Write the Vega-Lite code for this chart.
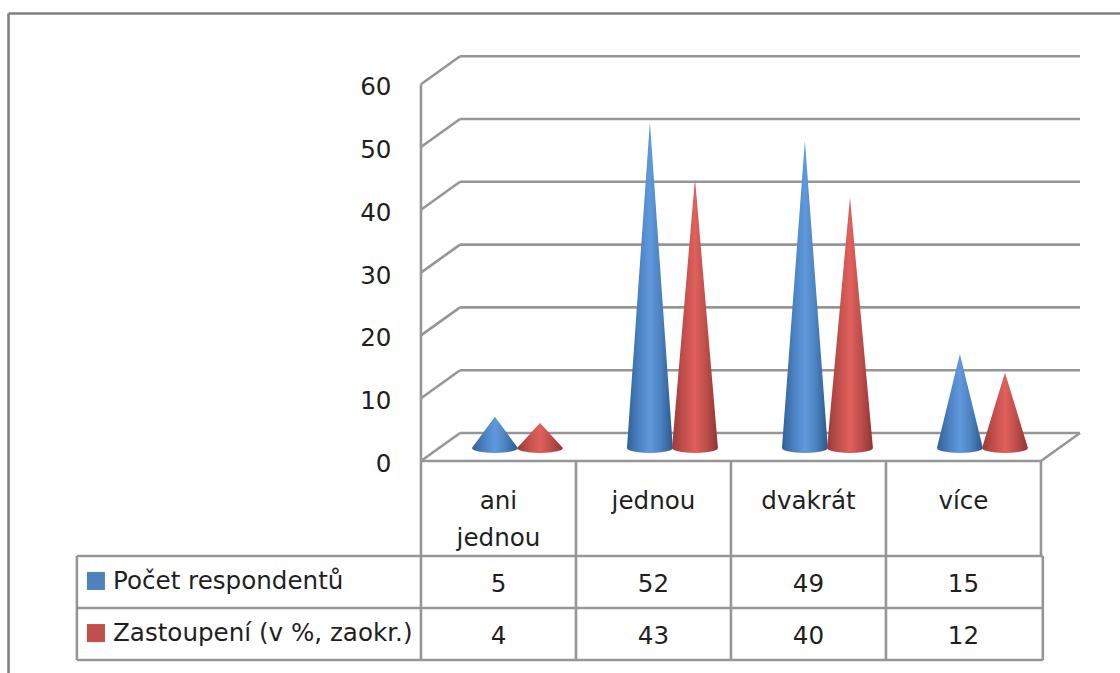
{
"$schema":"https://vega.github.io/schema/vega-lite/v6.json",
"width":1120,"height":673,"padding":0,"autosize":{"type":"none"},"background":"white",
"config":{"view":{"stroke":null},"text":{"font":"DejaVu Sans","fontSize":24.6,"color":"#1f1f1f"},"rule":{"color":"#969696","strokeWidth":2.6}},
"datasets":{
"respondenti":[
{"kategorie":"ani jednou","serie":"Počet respondentů","hodnota":5},
{"kategorie":"jednou","serie":"Počet respondentů","hodnota":52},
{"kategorie":"dvakrát","serie":"Počet respondentů","hodnota":49},
{"kategorie":"více","serie":"Počet respondentů","hodnota":15},
{"kategorie":"ani jednou","serie":"Zastoupení (v %, zaokr.)","hodnota":4},
{"kategorie":"jednou","serie":"Zastoupení (v %, zaokr.)","hodnota":43},
{"kategorie":"dvakrát","serie":"Zastoupení (v %, zaokr.)","hodnota":40},
{"kategorie":"více","serie":"Zastoupení (v %, zaokr.)","hodnota":12}],
"mrizka":[{"tick":0},{"tick":10},{"tick":20},{"tick":30},{"tick":40},{"tick":50},{"tick":60}],
"jeden":[{"a":1}]
},
"data":{"name":"respondenti"},
"transform":[{"calculate":"indexof(['ani jednou','jednou','dvakrát','více'],datum.kategorie)","as":"i"}],
"resolve":{"scale":{"y":"independent"}},
"layer":[
{"layer":[
{"data":{"name":"mrizka"},"transform":[{"calculate":"datum.tick+4.46","as":"back"}],"mark":"rule","encoding":{
 "x":{"datum":0,"type":"quantitative","scale":{"domain":[-2.716,4.51],"nice":false,"zero":false},"axis":null},
 "x2":{"datum":0.252},
 "y":{"field":"tick","type":"quantitative","scale":{"domain":[-33.76,73.41],"nice":false,"zero":false},"axis":null},
 "y2":{"field":"back"}}},
{"data":{"name":"mrizka"},"mark":{"type":"text","align":"right","baseline":"middle","dy":4},"encoding":{
 "x":{"datum":-0.19,"type":"quantitative","axis":null},"y":{"field":"tick","type":"quantitative","axis":null},"text":{"field":"tick"}}},
{"data":{"name":"mrizka"},"transform":[{"calculate":"datum.tick+4.46","as":"back"}],"mark":"rule","encoding":{
 "x":{"datum":0.252,"type":"quantitative","axis":null},"x2":{"datum":4.252},"y":{"field":"back","type":"quantitative","axis":null}}},
{"data":{"name":"jeden"},"mark":"rule","encoding":{"x":{"datum":4,"type":"quantitative","axis":null},"x2":{"datum":4.252},"y":{"datum":0,"type":"quantitative","axis":null},"y2":{"datum":4.46}}},
{"data":{"name":"jeden"},"mark":"rule","encoding":{"x":{"datum":0,"type":"quantitative","axis":null},"y":{"datum":0,"type":"quantitative","axis":null},"y2":{"datum":60}}},
{"data":{"name":"jeden"},"mark":"rule","encoding":{"x":{"datum":0,"type":"quantitative","axis":null},"x2":{"datum":4},"y":{"datum":0,"type":"quantitative","axis":null}}},
{"data":{"name":"jeden"},"mark":{"type":"rule","color":"#808080","strokeWidth":2.6},"encoding":{"x":{"datum":-2.661,"type":"quantitative","axis":null},"x2":{"datum":4.51},"y":{"datum":71.26,"type":"quantitative","axis":null}}},
{"data":{"name":"jeden"},"mark":{"type":"rule","color":"#808080","strokeWidth":2.6},"encoding":{"x":{"datum":-2.661,"type":"quantitative","axis":null},"y":{"datum":71.26,"type":"quantitative","axis":null},"y2":{"datum":-33.76}}},
{"data":{"name":"jeden"},"mark":"rule","encoding":{"x":{"datum":-2.22,"type":"quantitative","axis":null},"x2":{"datum":4.012},"y":{"datum":-15.13,"type":"quantitative","axis":null}}},
{"data":{"name":"jeden"},"mark":"rule","encoding":{"x":{"datum":-2.22,"type":"quantitative","axis":null},"x2":{"datum":4.012},"y":{"datum":-23.41,"type":"quantitative","axis":null}}},
{"data":{"name":"jeden"},"mark":"rule","encoding":{"x":{"datum":-2.22,"type":"quantitative","axis":null},"x2":{"datum":4.012},"y":{"datum":-31.69,"type":"quantitative","axis":null}}},
{"data":{"name":"jeden"},"mark":"rule","encoding":{"x":{"datum":-2.22,"type":"quantitative","axis":null},"y":{"datum":-15.13,"type":"quantitative","axis":null},"y2":{"datum":-31.69}}},
{"data":{"name":"jeden"},"mark":"rule","encoding":{"x":{"datum":0,"type":"quantitative","axis":null},"y":{"datum":0,"type":"quantitative","axis":null},"y2":{"datum":-31.69}}},
{"data":{"name":"jeden"},"mark":"rule","encoding":{"x":{"datum":1,"type":"quantitative","axis":null},"y":{"datum":0,"type":"quantitative","axis":null},"y2":{"datum":-31.69}}},
{"data":{"name":"jeden"},"mark":"rule","encoding":{"x":{"datum":2,"type":"quantitative","axis":null},"y":{"datum":0,"type":"quantitative","axis":null},"y2":{"datum":-31.69}}},
{"data":{"name":"jeden"},"mark":"rule","encoding":{"x":{"datum":3,"type":"quantitative","axis":null},"y":{"datum":0,"type":"quantitative","axis":null},"y2":{"datum":-31.69}}},
{"data":{"name":"jeden"},"mark":"rule","encoding":{"x":{"datum":4,"type":"quantitative","axis":null},"y":{"datum":0,"type":"quantitative","axis":null},"y2":{"datum":-15.13}}},
{"data":{"name":"jeden"},"mark":"rule","encoding":{"x":{"datum":4.012,"type":"quantitative","axis":null},"y":{"datum":-15.13,"type":"quantitative","axis":null},"y2":{"datum":-31.69}}},
{"transform":[{"filter":"datum.serie==='Počet respondentů'"},{"calculate":"datum.i+0.5","as":"sx"},{"calculate":"replace(datum.kategorie,' ','\\n')","as":"popisek"}],
 "mark":{"type":"text","align":"center","baseline":"top","lineBreak":"\n","lineHeight":37},
 "encoding":{"x":{"field":"sx","type":"quantitative","axis":null},"y":{"datum":-4.6,"type":"quantitative","axis":null},"text":{"field":"popisek"}}},
{"transform":[{"filter":"datum.serie==='Počet respondentů'"},{"calculate":"datum.i+0.5","as":"sx"}],
 "mark":{"type":"text","align":"center","baseline":"middle"},
 "encoding":{"x":{"field":"sx","type":"quantitative","axis":null},"y":{"datum":-19.7,"type":"quantitative","axis":null},"text":{"field":"hodnota"}}},
{"transform":[{"filter":"datum.serie==='Zastoupení (v %, zaokr.)'"},{"calculate":"datum.i+0.5","as":"sx"}],
 "mark":{"type":"text","align":"center","baseline":"middle"},
 "encoding":{"x":{"field":"sx","type":"quantitative","axis":null},"y":{"datum":-28,"type":"quantitative","axis":null},"text":{"field":"hodnota"}}},
{"transform":[{"filter":"datum.serie==='Počet respondentů' && datum.i===0"}],
 "mark":{"type":"text","align":"left","baseline":"middle"},
 "encoding":{"x":{"datum":-1.987,"type":"quantitative","axis":null},"y":{"datum":-19.3,"type":"quantitative","axis":null},"text":{"field":"serie"}}},
{"transform":[{"filter":"datum.serie==='Zastoupení (v %, zaokr.)' && datum.i===0"}],
 "mark":{"type":"text","align":"left","baseline":"middle"},
 "encoding":{"x":{"datum":-1.987,"type":"quantitative","axis":null},"y":{"datum":-27.6,"type":"quantitative","axis":null},"text":{"field":"serie"}}},
{"data":{"name":"jeden"},"mark":{"type":"point","shape":"square","filled":true,"size":324,"color":"#4f81bd","opacity":1},
 "encoding":{"x":{"datum":-2.097,"type":"quantitative","axis":null},"y":{"datum":-19.1,"type":"quantitative","axis":null}}},
{"data":{"name":"jeden"},"mark":{"type":"point","shape":"square","filled":true,"size":324,"color":"#c0504d","opacity":1},
 "encoding":{"x":{"datum":-2.097,"type":"quantitative","axis":null},"y":{"datum":-27.4,"type":"quantitative","axis":null}}}
]},
{"layer":[
{"transform":[{"filter":"datum.serie==='Počet respondentů'"},
 {"calculate":"[-1,-0.97,-0.9,-0.75,-0.5,-0.25,0,0.25,0.5,0.75,0.9,0.97,1]","as":"t"},{"flatten":["t"]},
 {"calculate":"datum.i+0.477+datum.t*0.148","as":"sx"},
 {"calculate":"datum.hodnota*(1-abs(datum.t))","as":"vrch"},
 {"calculate":"-0.8*sqrt(1-datum.t*datum.t)","as":"zaklad"}],
 "mark":{"type":"area","interpolate":"linear","line":false,"fill":{"gradient":"linear","x1":0,"y1":0,"x2":1,"y2":0,"stops":[{"offset":0,"color":"#2f6099"},{"offset":0.25,"color":"#4a80c0"},{"offset":0.5,"color":"#6099dc"},{"offset":0.75,"color":"#4a80be"},{"offset":1,"color":"#2b588c"}]}},
 "encoding":{"x":{"field":"sx","type":"quantitative","axis":null},
  "y":{"field":"vrch","type":"quantitative","stack":null,"axis":null,"scale":{"domain":[-35.89,71.45],"nice":false,"zero":false}},
  "y2":{"field":"zaklad"},"detail":{"field":"kategorie"}}},
{"transform":[{"filter":"datum.serie==='Zastoupení (v %, zaokr.)'"},
 {"calculate":"[-1,-0.97,-0.9,-0.75,-0.5,-0.25,0,0.25,0.5,0.75,0.9,0.97,1]","as":"t"},{"flatten":["t"]},
 {"calculate":"datum.i+0.768+datum.t*0.148","as":"sx"},
 {"calculate":"datum.hodnota*(1-abs(datum.t))","as":"vrch"},
 {"calculate":"-0.8*sqrt(1-datum.t*datum.t)","as":"zaklad"}],
 "mark":{"type":"area","interpolate":"linear","line":false,"fill":{"gradient":"linear","x1":0,"y1":0,"x2":1,"y2":0,"stops":[{"offset":0,"color":"#9a3a38"},{"offset":0.25,"color":"#c04f4c"},{"offset":0.5,"color":"#e0605c"},{"offset":0.75,"color":"#bd4d4a"},{"offset":1,"color":"#8f3432"}]}},
 "encoding":{"x":{"field":"sx","type":"quantitative","axis":null},
  "y":{"field":"vrch","type":"quantitative","stack":null,"axis":null},
  "y2":{"field":"zaklad"},"detail":{"field":"kategorie"}}}
]}
]
}
